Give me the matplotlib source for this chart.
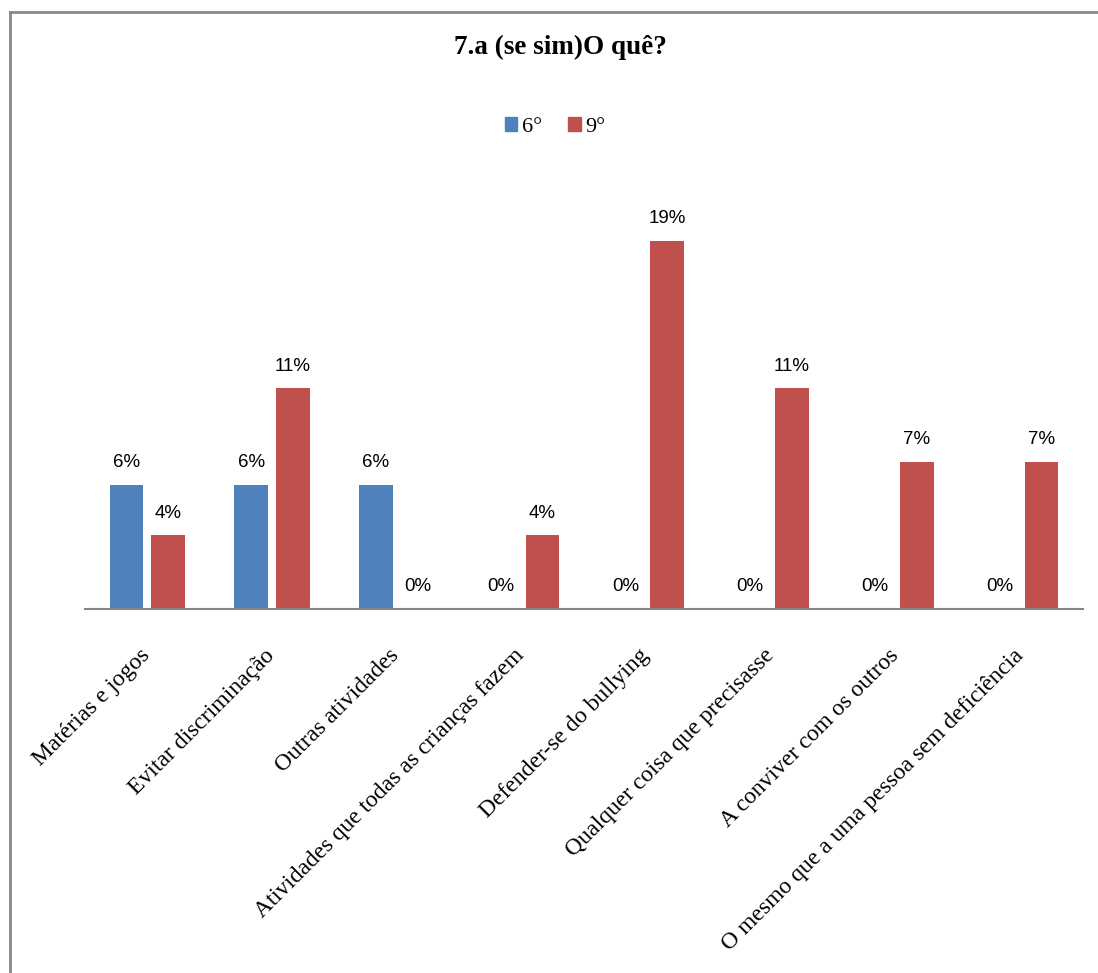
import matplotlib
matplotlib.use("Agg")
import matplotlib.pyplot as plt
from matplotlib.lines import Line2D
from matplotlib.patches import Patch
from matplotlib.transforms import ScaledTranslation
import numpy as np

categories = [
    "Matérias e jogos",
    "Evitar discriminação",
    "Outras atividades",
    "Atividades que todas as crianças fazem",
    "Defender-se do bullying",
    "Qualquer coisa que precisasse",
    "A conviver com os outros",
    "O mesmo que a uma pessoa sem deficiência",
]
series_names = ["6°", "9°"]
values_6 = [6.25, 6.25, 6.25, 0, 0, 0, 0, 0]
values_9 = [3.7, 11.1, 0, 3.7, 18.52, 11.1, 7.4, 7.4]
title = "7.a (se sim)O quê?"

blue = "#4F81BD"
red = "#C0504D"

W, H = 1098, 973
fig = plt.figure(figsize=(W / 100, H / 100), dpi=100)
ax = fig.add_axes([85 / W, 1 - 609 / H, (1083 - 85) / W, (609 - 211.6) / H])

x = np.arange(len(categories))
bw = 0.27
off = 0.167
b1 = ax.bar(x - off, values_6, bw, color=blue, label=series_names[0])
b2 = ax.bar(x + off, values_9, bw, color=red, label=series_names[1])

for bars, vals in ((b1, values_6), (b2, values_9)):
    for rect, v in zip(bars, vals):
        ax.annotate(f"{v:.0f}%", (rect.get_x() + rect.get_width() / 2, rect.get_height()),
                    xytext=(0, 10), textcoords="offset points", ha="center", va="bottom",
                    fontsize=13.5, family="Liberation Sans", color="black")

ax.set_xlim(-0.5, len(categories) - 0.5)
ax.set_ylim(0, 20)
ax.set_yticks([])
for s in ("top", "right", "left"):
    ax.spines[s].set_visible(False)
ax.spines["bottom"].set_color("#868686")
ax.spines["bottom"].set_linewidth(1.5)
ax.set_xticks(x)
ax.set_xticklabels(categories, rotation=45, ha="right", rotation_mode="anchor",
                   va="top", family="Liberation Serif", fontsize=17)
ax.tick_params(axis="x", length=0, pad=26)
shift = ScaledTranslation(-8 / 100, 0, fig.dpi_scale_trans)
for lbl in ax.get_xticklabels():
    lbl.set_transform(lbl.get_transform() + shift)

fig.text(560 / W, 1 - 47 / H, title, ha="center", va="center",
         family="Liberation Serif", fontweight="bold", fontsize=19.5)

handles = [Patch(color=blue), Patch(color=red)]
fig.legend(handles, series_names, loc="center", bbox_to_anchor=(555 / W, 1 - 127 / H),
           ncol=2, frameon=False, handlelength=0.55, handleheight=0.55,
           handletextpad=0.2, columnspacing=1.2,
           prop={"family": "Liberation Serif", "size": 16})

# chart border (top and left visible)
fig.add_artist(Line2D([10 / W, 1.0], [1 - 12 / H, 1 - 12 / H], transform=fig.transFigure,
                      color="#888888", lw=2))
fig.add_artist(Line2D([10 / W, 10 / W], [1 - 12 / H, 0], transform=fig.transFigure,
                      color="#888888", lw=2))

fig.savefig("out.png", dpi=100, facecolor="white")
